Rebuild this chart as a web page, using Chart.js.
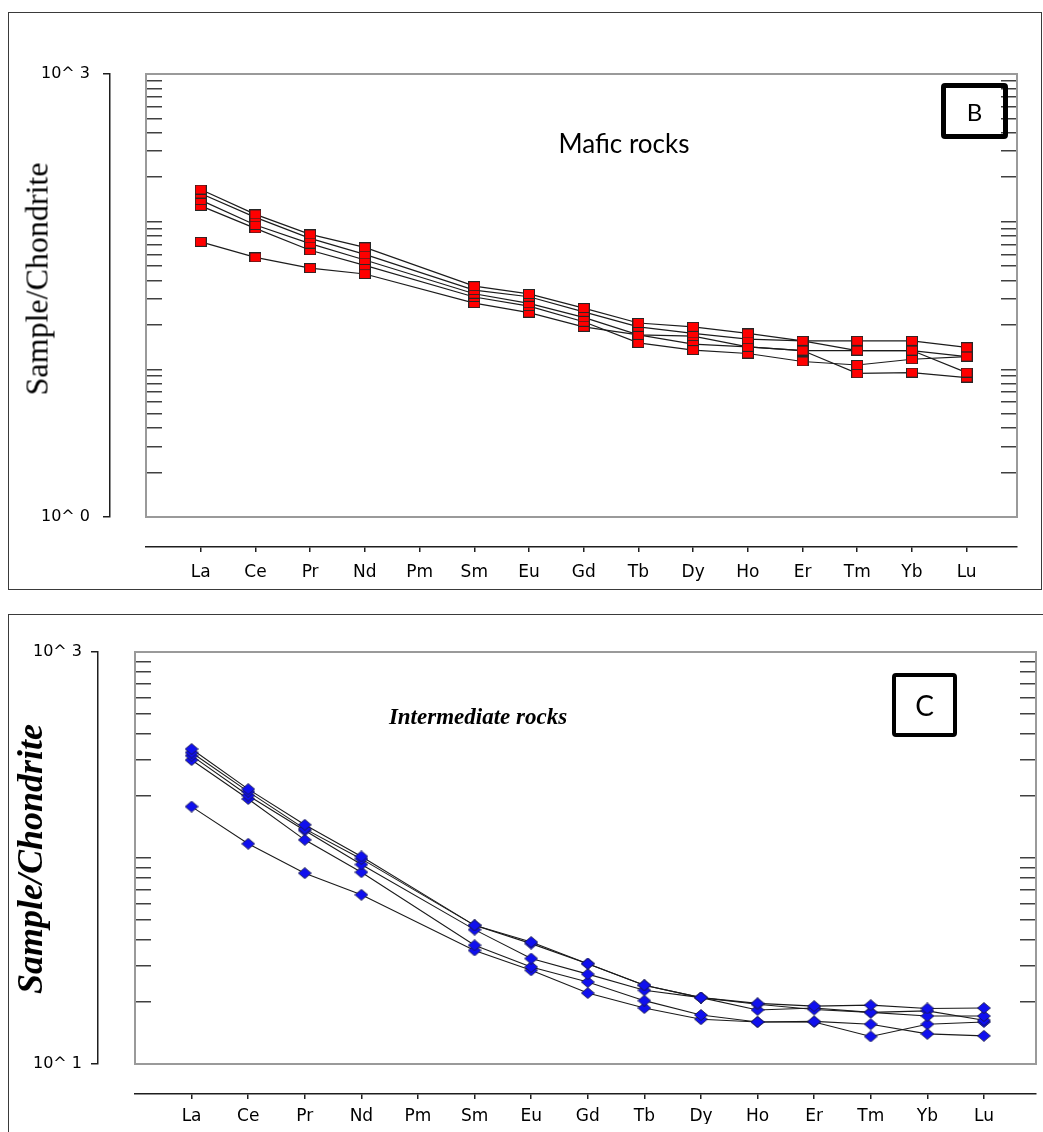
<!DOCTYPE html>
<html>
<head>
<meta charset="utf-8">
<title>REE chondrite-normalised patterns</title>
<script src="https://cdn.jsdelivr.net/npm/chart.js@4.4.1/dist/chart.umd.min.js"></script>
<style>
  html, body { margin: 0; padding: 0; background: #fff; }
  body { width: 1043px; height: 1132px; position: relative; overflow: hidden; }
  .panel { position: absolute; border: 1.5px solid #3a3a3a; box-sizing: border-box; }
  canvas { position: absolute; left: 0; }
  .centered { position: absolute; white-space: nowrap; line-height: 1; transform: translate(-50%, -50%); color: #000; }
  .ytitle { position: absolute; white-space: nowrap; line-height: 1; transform: translate(-50%, -50%) rotate(-90deg); color: #000; }
  .tag { position: absolute; box-sizing: border-box; border: 5px solid #000; border-radius: 4px;
         display: flex; align-items: center; justify-content: center; color: #000; line-height: 1; }
</style>
</head>
<body>
<div class="panel" style="left:8px;top:12px;width:1034px;height:578px"></div>
<div class="panel" style="left:8px;top:614px;width:1100px;height:600px"></div>

<canvas id="chartB" width="1043" height="600" style="top:0;width:1043px;height:600px"></canvas>
<canvas id="chartC" width="1043" height="532" style="top:600px;width:1043px;height:532px"></canvas>

<div class="ytitle" style="left:37px;top:279px;font:32px 'Liberation Serif', serif">Sample/Chondrite</div>
<div class="centered" style="left:624px;top:143px;font:26px Lato, sans-serif">Mafic rocks</div>
<div class="tag" style="left:941px;top:83px;width:67px;height:56px;font:24px Lato, sans-serif">B</div>

<div class="ytitle" style="left:30px;top:859px;font:italic bold 36px 'Liberation Serif', serif">Sample/Chondrite</div>
<div class="centered" style="left:478px;top:717px;font:italic bold 23px 'Liberation Serif', serif">Intermediate rocks</div>
<div class="tag" style="left:892px;top:673px;width:65px;height:64px;border-width:4.5px;font:28px Lato, sans-serif">C</div>

<script>
// Rare earth elements along the x axis (Pm is not analysed)
const categories = ['La', 'Ce', 'Pr', 'Nd', 'Pm', 'Sm', 'Eu', 'Gd', 'Tb', 'Dy', 'Ho', 'Er', 'Tm', 'Yb', 'Lu'];

// Mafic rocks, sample / chondrite
const mafic1 = [165, 112, 82, 67, null, 36.6, 32.4, 26.0, 20.6, 19.4, 17.5, 15.6, 15.6, 15.6, 14.1];
const mafic2 = [155, 107, 77, 60, null, 34.4, 31.0, 24.5, 19.4, 17.5, 16.0, 15.6, 13.4, 13.4, 12.2];
const mafic3 = [140, 95, 71, 55, null, 32.5, 28.0, 22.5, 17.1, 16.8, 14.2, 13.4, 13.4, 13.4, 9.5];
const mafic4 = [128, 90, 64, 50.6, null, 30.9, 26.8, 21.0, 15.1, 13.5, 12.8, 11.3, 10.7, 11.7, 12.2];
const mafic5 = [73, 57.3, 48.5, 44.2, null, 28.1, 24.2, 19.4, 17.1, 14.8, 14.2, 13.4, 9.4, 9.5, 8.8];

// Intermediate rocks, sample / chondrite
const inter1 = [338, 216, 145, 101.7, null, 47.1, 39.1, 30.7, 24.1, 21.0, 19.7, 19.1, 19.3, 18.6, 18.7];
const inter2 = [325, 210, 138.5, 99, null, 47.1, 38.4, 30.7, 24.1, 21.0, 19.5, 18.4, 17.8, 17.1, 17.1];
const inter3 = [314, 201, 136, 93, null, 44.9, 32.5, 27.3, 22.8, 21.0, 18.3, 18.7, 17.8, 18.1, 16.3];
const inter4 = [299, 193.5, 122.5, 85.3, null, 37.7, 29.6, 25.0, 20.3, 17.3, 16.0, 16.1, 15.6, 14.0, 13.7];
const inter5 = [177.6, 117.2, 84.4, 66.3, null, 35.6, 28.5, 22.1, 18.7, 16.5, 16.0, 16.0, 13.6, 15.6, 16.0];

// Log axis ranges and their end labels
const maficRange = [1, 1000];
const maficRangeLabels = ['10^ 0', '10^ 3'];
const interRange = [10, 1000];
const interRangeLabels = ['10^ 1', '10^ 3'];

const FRAME = '#9a9a9a';
const AXIS = '#1e1e1e';
const CATEGORY_FONT = { family: "'DejaVu Sans', sans-serif", size: 17 };
const RANGE_FONT = { family: "'DejaVu Sans', sans-serif", size: 16 };

// Minor log ticks: 1..9 x 10^n for every decade, plus the upper bound
function logTicks(min, max) {
  const out = [];
  for (let e = Math.round(Math.log10(min)); e < Math.round(Math.log10(max)); e++) {
    for (let m = 1; m <= 9; m++) out.push(m * Math.pow(10, e));
  }
  out.push(max);
  return out;
}

function squareMarker() {
  const c = document.createElement('canvas');
  c.width = 12; c.height = 10;
  const g = c.getContext('2d');
  g.fillStyle = '#ff0000';
  g.fillRect(0.5, 0.5, 11, 9);
  g.strokeStyle = '#262626';
  g.lineWidth = 1;
  g.strokeRect(0.5, 0.5, 11, 9);
  return c;
}

function diamondMarker() {
  const c = document.createElement('canvas');
  c.width = 14; c.height = 12;
  const g = c.getContext('2d');
  g.beginPath();
  g.moveTo(7, 0.5); g.lineTo(13.5, 6); g.lineTo(7, 11.5); g.lineTo(0.5, 6);
  g.closePath();
  g.fillStyle = '#1010ee';
  g.fill();
  g.strokeStyle = '#1a1a40';
  g.lineWidth = 0.8;
  g.stroke();
  return c;
}

function toPoints(values) {
  return values.map((v, i) => ({ x: i, y: v }));
}

function fixSize(w, h) {
  return function (scale) {
    if (w !== undefined) scale.width = w;
    if (h !== undefined) scale.height = h;
    scale.paddingLeft = scale.paddingRight = scale.paddingTop = scale.paddingBottom = 0;
  };
}

function buildChart(canvasId, cfg) {
  const g = cfg.geom;
  const [yMin, yMax] = cfg.range;
  const xMax = 14.92;
  const datasets = [];
  cfg.series.forEach(values => {
    datasets.push({
      data: toPoints(values), borderColor: cfg.lineColor, borderWidth: cfg.lineWidth,
      pointRadius: 0, pointHoverRadius: 0, fill: false, spanGaps: true, tension: 0,
      order: 1, xAxisID: 'x', yAxisID: 'y'
    });
  });
  cfg.series.forEach(values => {
    datasets.push({
      data: toPoints(values), showLine: false, pointStyle: cfg.marker,
      pointRadius: 6, pointHoverRadius: 6, order: 0, xAxisID: 'x', yAxisID: 'y'
    });
  });

  const frameSide = (pos, w) => ({
    type: 'logarithmic', position: pos, min: yMin, max: yMax, bounds: 'data', weight: 0,
    afterBuildTicks: s => { s.ticks = logTicks(yMin, yMax).map(v => ({ value: v })); },
    afterFit: fixSize(w, undefined),
    ticks: { display: false },
    grid: { drawOnChartArea: false, drawTicks: true, tickLength: -16, color: '#404040', lineWidth: 1.5 },
    border: { display: true, color: FRAME, width: 2 }
  });

  return new Chart(document.getElementById(canvasId), {
    type: 'line',
    data: { datasets },
    options: {
      responsive: false,
      maintainAspectRatio: false,
      devicePixelRatio: 1,
      animation: false,
      events: [],
      layout: { padding: { left: g.padL, right: g.padR, top: g.padT, bottom: g.padB } },
      plugins: { legend: { display: false }, tooltip: { enabled: false }, title: { display: false } },
      scales: {
        x: {
          type: 'linear', position: 'bottom', min: -1, max: xMax, bounds: 'data', weight: 0,
          afterFit: fixSize(undefined, g.xH),
          ticks: { display: false },
          grid: { drawOnChartArea: false, drawTicks: false },
          border: { display: true, color: FRAME, width: 2 }
        },
        xc: {
          type: 'linear', position: 'bottom', min: -1, max: xMax, bounds: 'data', weight: 1,
          afterBuildTicks: s => { s.ticks = categories.map((c, i) => ({ value: i })); },
          afterFit: fixSize(undefined, g.xcH),
          ticks: {
            autoSkip: false, maxRotation: 0, minRotation: 0, padding: g.xcPad,
            color: '#000', font: CATEGORY_FONT, callback: v => categories[v]
          },
          grid: { drawOnChartArea: false, drawTicks: true, tickLength: 5, color: AXIS, lineWidth: 1.5 },
          border: { display: true, color: AXIS, width: 1.5 }
        },
        x2: {
          type: 'linear', position: 'top', min: -1, max: xMax, bounds: 'data',
          afterFit: fixSize(undefined, g.x2H),
          ticks: { display: false },
          grid: { drawOnChartArea: false, drawTicks: false },
          border: { display: true, color: FRAME, width: 2 }
        },
        y: frameSide('left', g.yW),
        y2: frameSide('right', g.y2W),
        yl: {
          type: 'logarithmic', position: 'left', min: yMin, max: yMax, bounds: 'data', weight: 1,
          afterBuildTicks: s => { s.ticks = cfg.range.map(v => ({ value: v })); },
          afterFit: fixSize(g.ylW, undefined),
          ticks: {
            autoSkip: false, padding: g.ylPad, color: '#000', font: RANGE_FONT,
            callback: (v, i) => cfg.rangeLabels[i]
          },
          grid: { drawOnChartArea: false, drawTicks: true, tickLength: 7, color: AXIS, lineWidth: 1.5 },
          border: { display: true, color: AXIS, width: 1.5 }
        }
      }
    }
  });
}

buildChart('chartB', {
  series: [mafic1, mafic2, mafic3, mafic4, mafic5],
  range: maficRange,
  rangeLabels: maficRangeLabels,
  marker: squareMarker(),
  lineColor: '#1c1c1c',
  lineWidth: 1.2,
  geom: { padL: 10, ylW: 100, yW: 36, padR: 16, y2W: 10, padT: 73, x2H: 1,
          padB: 13, xcH: 40, xH: 30, ylPad: 13, xcPad: 10 }
});

buildChart('chartC', {
  series: [inter1, inter2, inter3, inter4, inter5],
  range: interRange,
  rangeLabels: interRangeLabels,
  marker: diamondMarker(),
  lineColor: '#1a1a1a',
  lineWidth: 1.1,
  geom: { padL: 10, ylW: 88, yW: 37, padR: 3, y2W: 1, padT: 51, x2H: 1,
          padB: 8, xcH: 30, xH: 30, ylPad: 9, xcPad: 7 }
});
</script>
</body>
</html>
